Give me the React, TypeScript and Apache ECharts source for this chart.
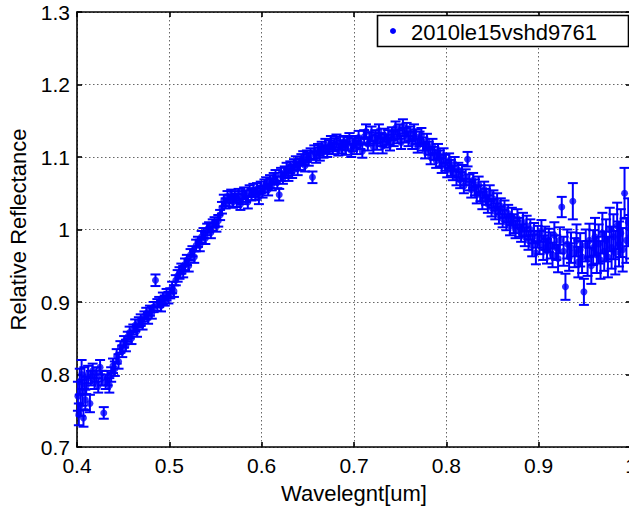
import React, { useEffect, useRef } from "react";
import * as echarts from "echarts";

const seriesName = "2010le15vshd9761";
const xTitle = "Wavelegnt[um]";
const yTitle = "Relative Reflectance";

const wavelength = [
  0.401,0.402,0.403,0.404,0.405,0.406,0.407,0.408,0.409,0.410,
  0.412,0.414,0.415,0.417,0.419,0.421,0.423,0.425,0.427,0.429,
  0.431,0.433,0.435,0.437,0.439,0.441,0.443,0.445,0.447,0.449,
  0.451,0.453,0.455,0.457,0.459,0.461,0.463,0.465,0.467,0.469,
  0.471,0.473,0.475,0.477,0.479,0.481,0.483,0.485,0.487,0.489,
  0.491,0.493,0.495,0.497,0.499,0.501,0.503,0.505,0.507,0.509,
  0.511,0.513,0.515,0.517,0.519,0.521,0.523,0.525,0.527,0.529,
  0.531,0.533,0.535,0.537,0.539,0.541,0.543,0.545,0.547,0.549,
  0.551,0.553,0.555,0.557,0.559,0.561,0.563,0.565,0.567,0.569,
  0.571,0.573,0.575,0.577,0.579,0.581,0.583,0.585,0.587,0.589,
  0.591,0.593,0.595,0.597,0.599,0.601,0.603,0.605,0.607,0.609,
  0.611,0.613,0.615,0.617,0.619,0.621,0.623,0.625,0.627,0.629,
  0.631,0.633,0.635,0.637,0.639,0.641,0.643,0.645,0.647,0.649,
  0.651,0.653,0.655,0.657,0.659,0.661,0.663,0.665,0.667,0.669,
  0.671,0.673,0.675,0.677,0.679,0.681,0.683,0.685,0.687,0.689,
  0.691,0.693,0.695,0.697,0.699,0.701,0.703,0.705,0.707,0.709,
  0.711,0.713,0.715,0.717,0.719,0.721,0.723,0.725,0.727,0.729,
  0.731,0.733,0.735,0.737,0.739,0.741,0.743,0.745,0.747,0.749,
  0.751,0.753,0.755,0.757,0.759,0.761,0.763,0.765,0.767,0.769,
  0.771,0.773,0.775,0.777,0.779,0.781,0.783,0.785,0.787,0.789,
  0.791,0.793,0.795,0.797,0.799,0.801,0.803,0.805,0.807,0.809,
  0.811,0.813,0.815,0.817,0.819,0.821,0.823,0.825,0.827,0.829,
  0.831,0.833,0.835,0.837,0.839,0.841,0.843,0.845,0.847,0.849,
  0.851,0.853,0.855,0.857,0.859,0.861,0.863,0.865,0.867,0.869,
  0.871,0.873,0.875,0.877,0.879,0.881,0.883,0.885,0.887,0.889,
  0.891,0.893,0.895,0.897,0.899,0.901,0.903,0.905,0.907,0.909,
  0.911,0.913,0.915,0.917,0.919,0.921,0.923,0.925,0.927,0.929,
  0.931,0.933,0.935,0.937,0.939,0.941,0.943,0.945,0.947,0.949,
  0.951,0.953,0.955,0.957,0.959,0.961,0.963,0.965,0.967,0.969,
  0.971,0.973,0.975,0.977,0.979,0.981,0.983,0.985,0.987,0.989,
  0.991,0.993,0.995,0.997,0.999,
];

const reflectance = [
  0.770,0.745,0.790,0.758,0.800,0.775,0.740,0.795,0.765,0.785,
  0.800,0.760,0.795,0.805,0.790,0.800,0.785,0.810,0.795,0.747,
  0.790,0.795,0.785,0.800,0.812,0.808,0.825,0.818,0.838,0.832,
  0.845,0.840,0.852,0.858,0.850,0.862,0.868,0.860,0.872,0.875,
  0.870,0.880,0.884,0.878,0.888,0.885,0.893,0.930,0.896,0.900,
  0.895,0.905,0.902,0.910,0.906,0.912,0.920,0.915,0.930,0.936,
  0.940,0.946,0.942,0.952,0.958,0.950,0.965,0.970,0.962,0.978,
  0.983,0.978,0.990,0.995,0.988,1.000,1.003,0.996,1.006,1.010,
  1.005,1.012,1.020,1.030,1.040,1.036,1.045,1.040,1.048,1.038,
  1.045,1.040,1.048,1.035,1.044,1.050,1.046,1.038,1.053,1.048,
  1.054,1.049,1.056,1.044,1.058,1.052,1.060,1.064,1.055,1.066,
  1.062,1.070,1.073,1.065,1.048,1.076,1.071,1.079,1.083,1.075,
  1.086,1.080,1.089,1.093,1.084,1.090,1.096,1.099,1.088,1.101,
  1.097,1.104,1.072,1.107,1.100,1.110,1.104,1.113,1.107,1.116,
  1.108,1.114,1.120,1.112,1.117,1.122,1.110,1.119,1.114,1.121,
  1.112,1.118,1.125,1.109,1.117,1.121,1.113,1.127,1.119,1.108,
  1.128,1.135,1.118,1.125,1.132,1.114,1.128,1.120,1.136,1.124,
  1.115,1.130,1.122,1.127,1.118,1.132,1.125,1.140,1.128,1.135,
  1.120,1.142,1.130,1.138,1.125,1.132,1.120,1.135,1.128,1.115,
  1.125,1.130,1.118,1.108,1.122,1.112,1.100,1.115,1.105,1.095,
  1.108,1.098,1.088,1.102,1.092,1.082,1.095,1.085,1.078,1.090,
  1.072,1.082,1.068,1.078,1.060,1.072,1.097,1.065,1.055,1.068,
  1.058,1.048,1.062,1.050,1.040,1.055,1.045,1.035,1.050,1.030,
  1.042,1.025,1.038,1.020,1.032,1.015,1.028,1.010,1.022,1.005,
  1.018,1.008,1.000,1.015,1.003,0.995,1.010,0.990,1.005,0.985,
  1.000,0.978,0.995,0.968,0.990,0.982,0.998,0.975,0.988,0.970,
  0.985,0.978,0.965,0.992,0.975,0.960,0.985,1.031,0.970,0.921,
  0.980,0.962,0.975,1.039,0.968,0.985,0.955,0.972,0.962,0.914,
  0.978,0.960,0.985,0.950,0.975,0.990,0.965,0.980,0.958,0.995,
  0.970,0.985,0.962,1.000,0.975,0.990,0.968,1.005,0.980,0.995,
  0.972,1.050,0.985,1.010,0.990,
];

const errorBar = [
  0.020,0.015,0.018,0.015,0.020,0.018,0.012,0.015,0.014,0.012,
  0.012,0.012,0.010,0.010,0.010,0.010,0.010,0.010,0.010,0.008,
  0.010,0.010,0.010,0.010,0.010,0.010,0.010,0.010,0.008,0.008,
  0.008,0.008,0.007,0.008,0.008,0.007,0.008,0.008,0.007,0.008,
  0.008,0.007,0.008,0.008,0.007,0.008,0.007,0.008,0.008,0.007,
  0.008,0.008,0.007,0.008,0.008,0.007,0.008,0.008,0.007,0.008,
  0.008,0.007,0.008,0.008,0.007,0.008,0.008,0.007,0.008,0.008,
  0.007,0.008,0.008,0.007,0.008,0.008,0.007,0.008,0.008,0.007,
  0.008,0.008,0.007,0.008,0.008,0.007,0.008,0.008,0.007,0.008,
  0.008,0.009,0.008,0.008,0.009,0.008,0.008,0.009,0.008,0.008,
  0.009,0.008,0.008,0.009,0.008,0.008,0.009,0.008,0.008,0.009,
  0.008,0.008,0.009,0.008,0.008,0.009,0.008,0.008,0.009,0.008,
  0.008,0.009,0.008,0.008,0.009,0.008,0.008,0.009,0.008,0.008,
  0.009,0.008,0.008,0.009,0.008,0.008,0.009,0.008,0.008,0.009,
  0.008,0.009,0.009,0.008,0.009,0.009,0.008,0.009,0.009,0.008,
  0.009,0.009,0.008,0.009,0.009,0.008,0.009,0.009,0.008,0.009,
  0.009,0.010,0.009,0.009,0.010,0.009,0.009,0.010,0.009,0.009,
  0.010,0.009,0.009,0.010,0.009,0.009,0.010,0.009,0.009,0.010,
  0.009,0.010,0.010,0.009,0.010,0.010,0.009,0.010,0.010,0.009,
  0.010,0.010,0.009,0.010,0.010,0.009,0.010,0.010,0.009,0.010,
  0.010,0.011,0.010,0.010,0.011,0.010,0.010,0.011,0.010,0.010,
  0.011,0.010,0.011,0.011,0.010,0.011,0.010,0.011,0.011,0.010,
  0.011,0.012,0.011,0.011,0.012,0.011,0.011,0.012,0.011,0.012,
  0.012,0.011,0.012,0.012,0.011,0.012,0.012,0.011,0.012,0.013,
  0.012,0.013,0.012,0.013,0.013,0.012,0.013,0.013,0.014,0.013,
  0.014,0.015,0.014,0.016,0.015,0.016,0.015,0.017,0.016,0.017,
  0.016,0.018,0.017,0.018,0.017,0.019,0.018,0.014,0.020,0.018,
  0.020,0.019,0.021,0.025,0.020,0.022,0.021,0.023,0.022,0.018,
  0.022,0.024,0.023,0.025,0.024,0.026,0.025,0.027,0.026,0.028,
  0.027,0.029,0.028,0.030,0.029,0.031,0.030,0.032,0.031,0.033,
  0.030,0.035,0.031,0.033,0.030,
];

const xTicks = [0.4, 0.5, 0.6, 0.7, 0.8, 0.9, 1.0];
const yTicks = [0.7, 0.8, 0.9, 1.0, 1.1, 1.2, 1.3];

const FONT = "'Liberation Sans', Arial, Helvetica, sans-serif";
const BLUE = "#0000ff";

const fmt = (v: number) => String(Math.round(v * 10) / 10);

export default function App() {
  const ref = useRef<HTMLDivElement>(null);

  useEffect(() => {
    if (!ref.current) return;
    const chart = echarts.init(ref.current, null, { renderer: "svg" });

    const points = wavelength.map((w, i) => [w, reflectance[i]]);
    const bars = wavelength.map((w, i) => [
      w,
      reflectance[i] - errorBar[i],
      reflectance[i] + errorBar[i],
    ]);

    const axisLineStyle = { color: "#000", width: 1.6 };
    const gridLine = {
      show: true,
      lineStyle: { color: "#666", width: 1, type: [1.5, 2.5] as any },
    };
    const tick = { show: true, inside: true, length: 5, lineStyle: { color: "#000", width: 1.6 } };

    const option: any = {
      animation: false,
      backgroundColor: "#fff",
      grid: {
        left: 77,
        top: 12,
        width: 554,
        height: 435,
        containLabel: false,
        outerBoundsMode: "none",
        show: false,
      },
      xAxis: [
        {
          type: "value",
          min: xTicks[0],
          max: xTicks[xTicks.length - 1],
          interval: 0.1,
          position: "bottom",
          name: xTitle,
          nameLocation: "middle",
          nameGap: 35,
          nameTextStyle: { fontSize: 22, fontFamily: FONT, color: "#000" },
          axisLine: { show: true, onZero: false, lineStyle: axisLineStyle },
          axisTick: tick,
          axisLabel: {
            show: true,
            formatter: fmt,
            fontSize: 21,
            fontFamily: FONT,
            color: "#000",
            margin: 8,
            showMinLabel: true,
            showMaxLabel: true,
          },
          splitLine: gridLine,
        },
        {
          type: "value",
          min: xTicks[0],
          max: xTicks[xTicks.length - 1],
          interval: 0.1,
          position: "top",
          axisLine: { show: true, onZero: false, lineStyle: axisLineStyle },
          axisTick: tick,
          axisLabel: { show: false },
          splitLine: { show: false },
        },
      ],
      yAxis: [
        {
          type: "value",
          min: yTicks[0],
          max: yTicks[yTicks.length - 1],
          interval: 0.1,
          position: "left",
          name: yTitle,
          nameLocation: "middle",
          nameGap: 46,
          nameTextStyle: { fontSize: 22, fontFamily: FONT, color: "#000" },
          axisLine: { show: true, onZero: false, lineStyle: axisLineStyle },
          axisTick: tick,
          axisLabel: {
            show: true,
            formatter: fmt,
            fontSize: 21,
            fontFamily: FONT,
            color: "#000",
            margin: 7,
            showMinLabel: true,
            showMaxLabel: true,
          },
          splitLine: gridLine,
        },
        {
          type: "value",
          min: yTicks[0],
          max: yTicks[yTicks.length - 1],
          interval: 0.1,
          position: "right",
          axisLine: { show: true, onZero: false, lineStyle: axisLineStyle },
          axisTick: tick,
          axisLabel: { show: false },
          splitLine: { show: false },
        },
      ],
      series: [
        {
          type: "custom",
          name: "errors",
          xAxisIndex: 0,
          yAxisIndex: 0,
          data: bars,
          encode: { x: 0, y: [1, 2] },
          z: 3,
          renderItem: (params: any, api: any) => {
            const x = api.value(0);
            const lo = api.coord([x, api.value(1)]);
            const hi = api.coord([x, api.value(2)]);
            const hw = 5;
            const st = { stroke: BLUE, lineWidth: 2 };
            return {
              type: "group",
              children: [
                { type: "line", shape: { x1: hi[0], y1: hi[1], x2: lo[0], y2: lo[1] }, style: st },
                { type: "line", shape: { x1: hi[0] - hw, y1: hi[1], x2: hi[0] + hw, y2: hi[1] }, style: st },
                { type: "line", shape: { x1: lo[0] - hw, y1: lo[1], x2: lo[0] + hw, y2: lo[1] }, style: st },
              ],
            };
          },
        },
        {
          type: "scatter",
          name: seriesName,
          xAxisIndex: 0,
          yAxisIndex: 0,
          data: points,
          symbol: "circle",
          symbolSize: 7,
          itemStyle: { color: BLUE },
          z: 4,
        },
      ],
      graphic: [
        {
          type: "rect",
          z: 100,
          shape: { x: 377.5, y: 15.5, width: 251, height: 31 },
          style: { fill: "#fff", stroke: "#000", lineWidth: 1.6 },
        },
        {
          type: "circle",
          z: 101,
          shape: { cx: 393, cy: 31, r: 3 },
          style: { fill: BLUE },
        },
        {
          type: "text",
          z: 101,
          x: 411,
          y: 32,
          style: {
            text: seriesName,
            fontSize: 22,
            fontFamily: FONT,
            fill: "#000",
            verticalAlign: "middle",
            align: "left",
          },
        },
      ],
    };

    chart.setOption(option);
    return () => chart.dispose();
  }, []);

  return (
    <div
      ref={ref}
      style={{ position: "absolute", left: 0, top: 0, width: 629, height: 513 }}
    />
  );
}
